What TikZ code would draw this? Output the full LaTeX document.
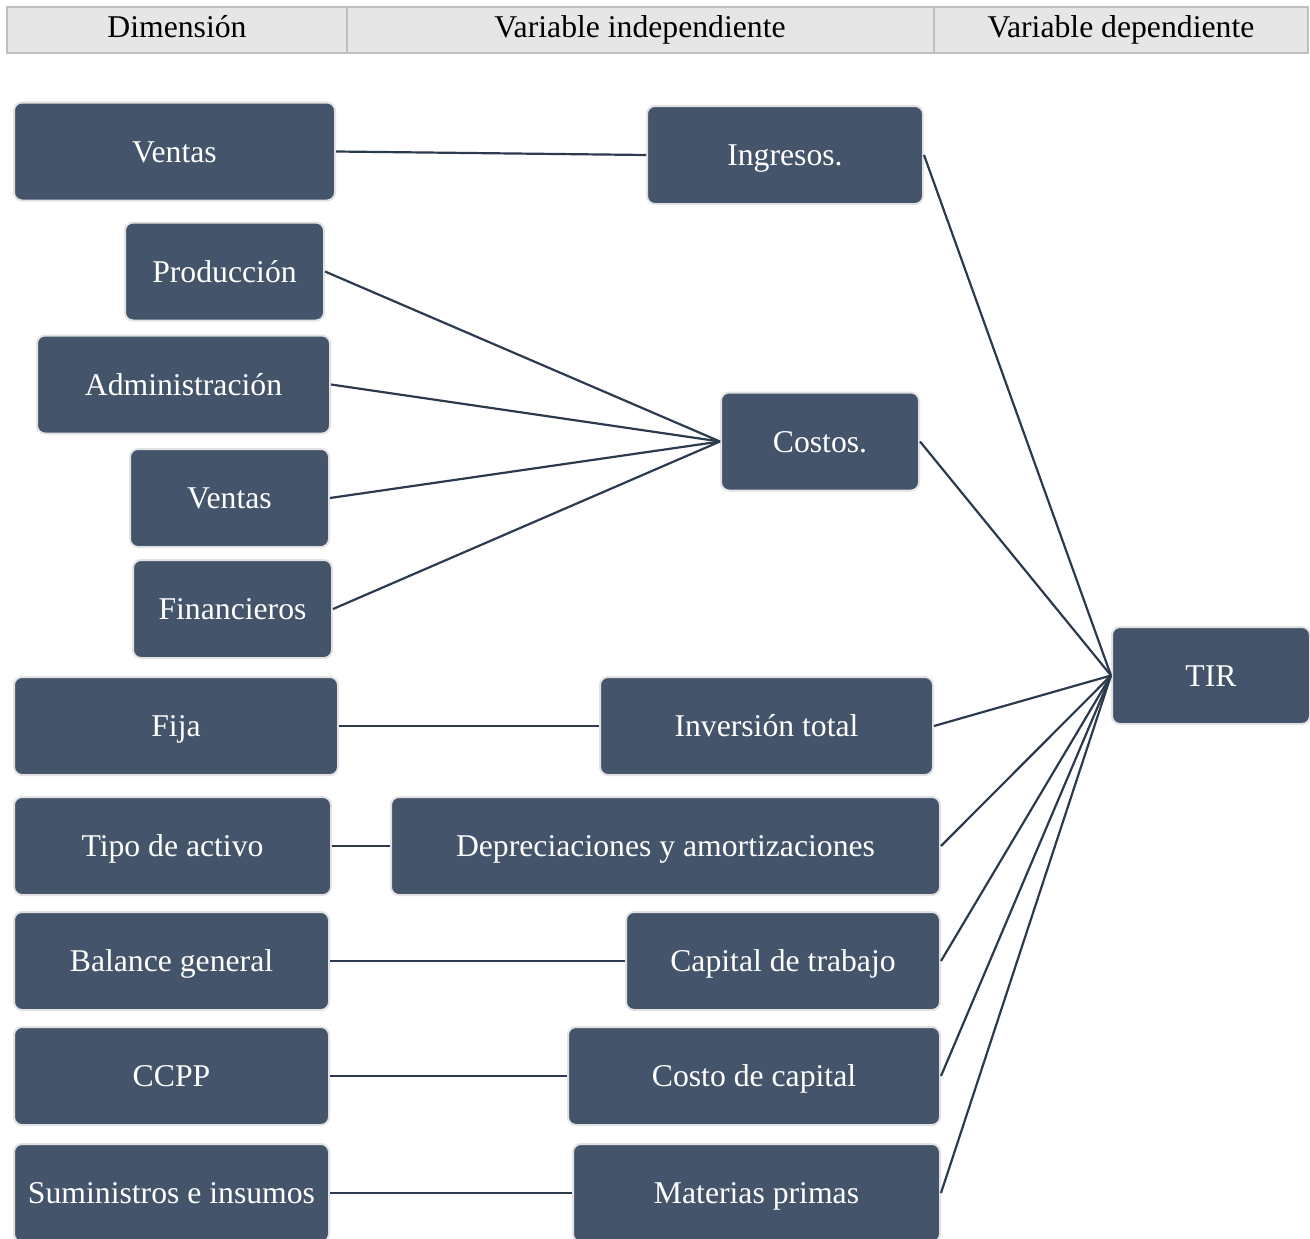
\documentclass[tikz,border=0pt]{standalone}
\usepackage{fontspec}
\setmainfont{Liberation Serif}
\definecolor{boxfill}{HTML}{44546A}
\definecolor{boxedge}{HTML}{E2E2E2}
\definecolor{wire}{HTML}{2C3A4D}
\definecolor{headfill}{HTML}{E6E6E6}
\definecolor{headedge}{HTML}{BFBFBF}
\tikzset{
  item/.style={draw=boxedge, line width=2pt, fill=boxfill, rounded corners=8pt,
    text=white, inner sep=0pt, minimum height=98pt, align=center,
    font=\fontsize{31.7}{38}\selectfont, text height=21pt, text depth=0pt},
  headcell/.style={draw=headedge, fill=headfill, line width=1.5pt},
  headtext/.style={font=\fontsize{31.7}{38}\selectfont, text height=21pt, text depth=0pt, inner sep=0pt},
  link/.style={draw=wire, line width=2.2pt}
}
\begin{document}
\begin{tikzpicture}[x=1pt,y=-1pt]
\useasboundingbox (0,0) rectangle (1310,1239);
% header row
\draw[headcell] (7,7) rectangle (347,53);
\draw[headcell] (347,7) rectangle (934,53);
\draw[headcell] (934,7) rectangle (1308,53);
\node[headtext] (h1) at (177,27) {Dimensión};
\node[headtext] (h2) at (640,27) {Variable independiente};
\node[headtext] (h3) at (1121,27) {Variable dependiente};
% dimensions
\node[item, minimum width=321pt] (ven1) at (174.5,151.5) {Ventas};
\node[item, minimum width=199pt] (prod) at (224.5,271.5) {Producción};
\node[item, minimum width=293pt] (adm) at (183.5,384.5) {Administración};
\node[item, minimum width=199pt] (ven2) at (229.5,498) {Ventas};
\node[item, minimum width=199pt] (fin) at (232.5,609) {Financieros};
\node[item, minimum width=324pt] (fija) at (176,726) {Fija};
\node[item, minimum width=317pt] (tipo) at (172.5,846) {Tipo de activo};
\node[item, minimum width=315pt] (bal) at (171.5,961) {Balance general};
\node[item, minimum width=315pt] (ccpp) at (171.5,1076) {CCPP};
\node[item, minimum width=315pt] (sum) at (171.5,1193) {Suministros e insumos};
% independent variables
\node[item, minimum width=276pt] (ing) at (785,155) {Ingresos.};
\node[item, minimum width=198pt] (cos) at (820,441.5) {Costos.};
\node[item, minimum width=333pt] (inv) at (766.5,726) {Inversión total};
\node[item, minimum width=549pt] (dep) at (665.5,846) {Depreciaciones y amortizaciones};
\node[item, minimum width=314pt] (cap) at (783,961) {Capital de trabajo};
\node[item, minimum width=372pt] (cdc) at (754,1076) {Costo de capital};
\node[item, minimum width=367pt] (mat) at (756.5,1193) {Materias primas};
% dependent variable
\node[item, minimum width=198pt, minimum height=97pt] (tir) at (1211,675.5) {TIR};
% connectors: dimension to variable
\draw[link] (ven1.east) -- (ing.west);
\draw[link] (prod.east) -- (cos.west);
\draw[link] (adm.east) -- (cos.west);
\draw[link] (ven2.east) -- (cos.west);
\draw[link] (fin.east) -- (cos.west);
\draw[link] (fija.east) -- (inv.west);
\draw[link] (tipo.east) -- (dep.west);
\draw[link] (bal.east) -- (cap.west);
\draw[link] (ccpp.east) -- (cdc.west);
\draw[link] (sum.east) -- (mat.west);
% connectors: variable to TIR
\foreach \v in {ing,cos,inv,dep,cap,cdc,mat}
  \draw[link] (\v.east) -- (tir.west);
\end{tikzpicture}
\end{document}
